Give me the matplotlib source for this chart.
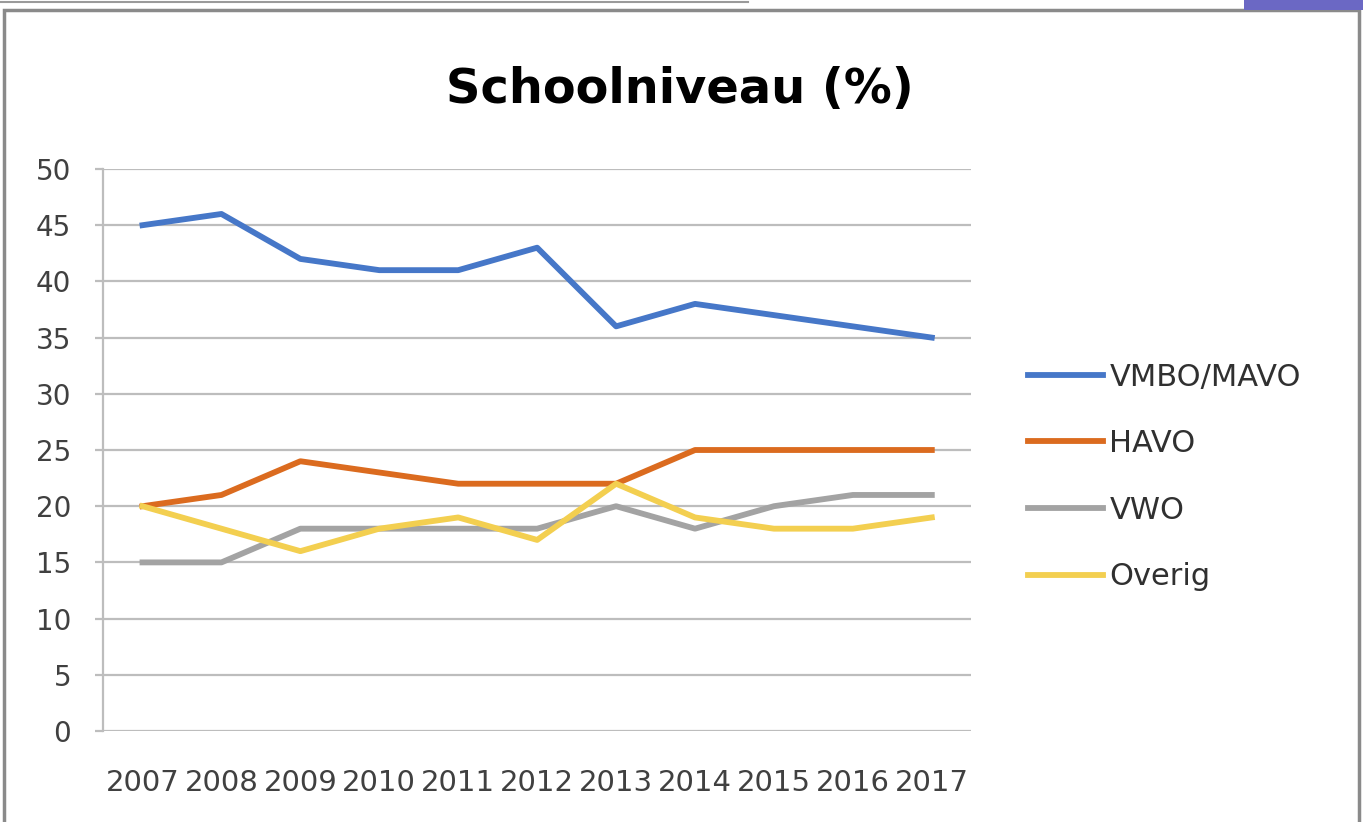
import matplotlib.pyplot as plt
from matplotlib.patches import Rectangle
from matplotlib.lines import Line2D

jaren = ['2007', '2008', '2009', '2010', '2011', '2012', '2013', '2014', '2015', '2016', '2017']
vmbo_mavo = [45, 46, 42, 41, 41, 43, 36, 38, 37, 36, 35]
havo = [20, 21, 24, 23, 22, 22, 22, 25, 25, 25, 25]
vwo = [15, 15, 18, 18, 18, 18, 20, 18, 20, 21, 21]
overig = [20, 18, 16, 18, 19, 17, 22, 19, 18, 18, 19]

reeksen = ['VMBO/MAVO', 'HAVO', 'VWO', 'Overig']
kleuren = ['#4677c8', '#db6b1f', '#a3a3a3', '#f3cf50']

fig = plt.figure(figsize=(13.63, 8.22), dpi=100)
ax = fig.add_axes([0.0756, 0.1107, 0.637, 0.6837])

x = range(len(jaren))
for waarden, naam, kleur in zip([vmbo_mavo, havo, vwo, overig], reeksen, kleuren):
    ax.plot(x, waarden, color=kleur, lw=4.2, label=naam)

ax.set_xlim(-0.5, len(jaren) - 0.5)
ax.set_ylim(0, 50)
ax.set_yticks(range(0, 51, 5))
ax.set_xticks(list(x))
ax.set_xticklabels(jaren)
ax.grid(axis='y', color='#bdbdbd', lw=1.6)
ax.set_axisbelow(True)

for kant in ['top', 'right', 'bottom']:
    ax.spines[kant].set_visible(False)
ax.spines['left'].set_color('#bdbdbd')
ax.spines['left'].set_linewidth(1.6)
ax.tick_params(axis='y', length=6, width=1.6, color='#bdbdbd', pad=17,
               labelsize=20, labelcolor='#404040')
ax.tick_params(axis='x', length=0, pad=27, labelsize=21, labelcolor='#404040')

fig.text(0.499, 0.891, 'Schoolniveau (%)', ha='center', va='center',
         fontsize=34.5, fontweight='bold')

ax.legend(loc='center left', bbox_to_anchor=(1.034, 0.452), frameon=False,
          fontsize=22, handlelength=2.45, handletextpad=0.2, labelspacing=1.23,
          labelcolor='#303030')

# kader van de grafiek
fig.add_artist(Rectangle((0.003, -0.01), 0.994, 0.998, transform=fig.transFigure,
                         fill=False, edgecolor='#8a8a8a', lw=2.5))
fig.add_artist(Line2D([0, 0.549], [0.997, 0.997], transform=fig.transFigure,
                      color='#9a9a9a', lw=1.5))
fig.add_artist(Rectangle((0.913, 0.988), 0.09, 0.02, transform=fig.transFigure,
                         color='#6b68c4', lw=0))

fig.savefig('out.png', dpi=100)
